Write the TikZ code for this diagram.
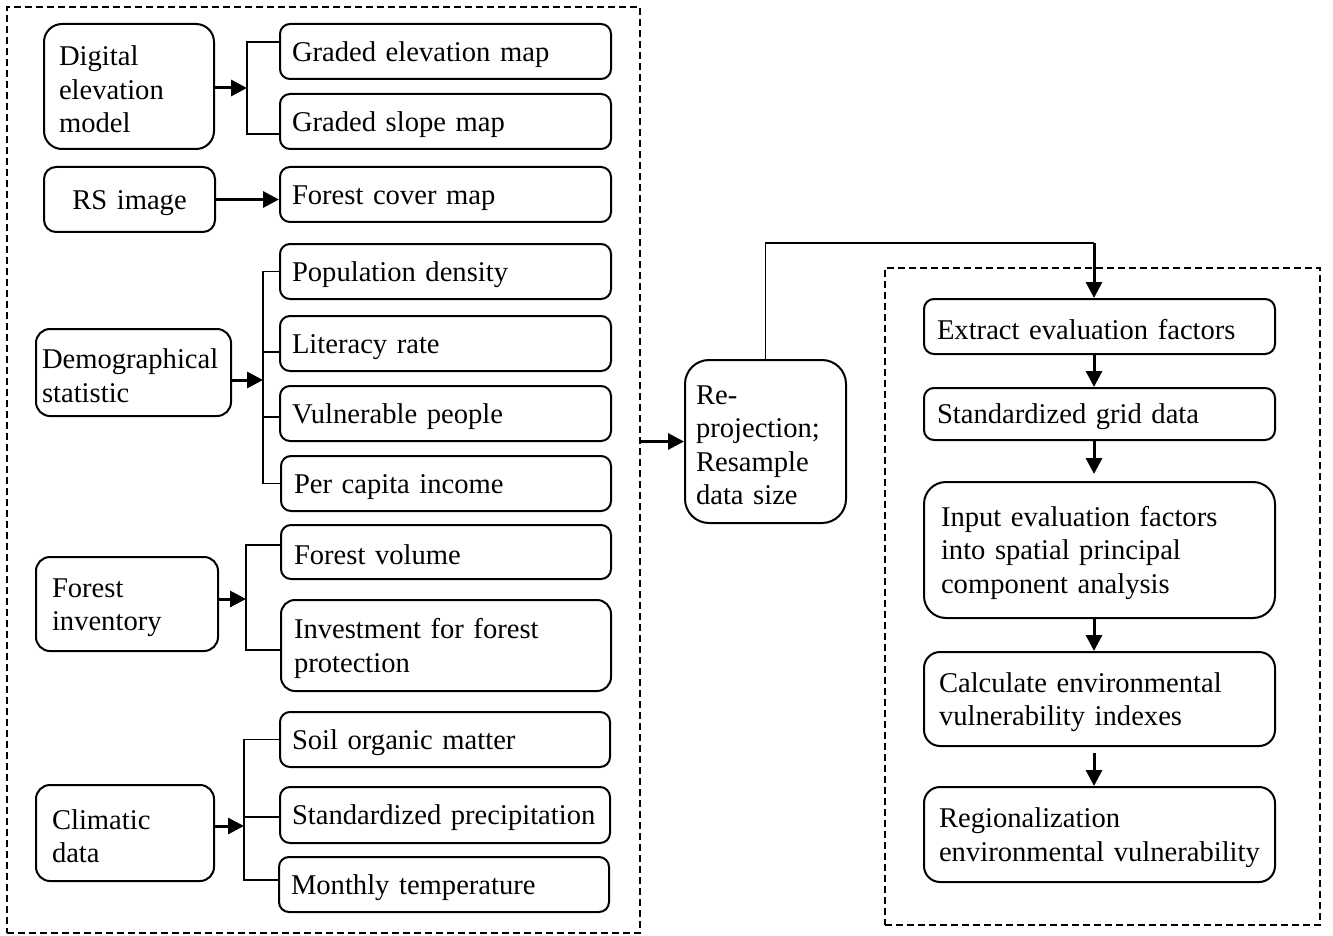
\documentclass[tikz,border=0pt]{standalone}
\usepackage{fontspec}
\setmainfont{Liberation Serif}
\usetikzlibrary{arrows.meta}
\begin{document}
\begin{tikzpicture}[x=1pt,y=-1pt,
  box/.style={draw, line width=2pt, rounded corners=10pt, anchor=north west,
    align=left, inner ysep=0pt, font=\fontsize{28.6}{33.5}\selectfont,
    execute at begin node={\rule{0pt}{26pt}}},
  frame/.style={draw, line width=1.8pt, dash pattern=on 7pt off 4pt, anchor=north west, inner sep=0pt},
  arr/.style={line width=3pt, -{Triangle[length=16pt,width=16pt]}},
  link/.style={line width=1.4pt}]
\useasboundingbox (0,0) rectangle (1333,936);
% frames
\node[frame, minimum width=633pt, minimum height=926pt] (lf) at (6,6) {};
\node[frame, minimum width=435pt, minimum height=657pt] (rf) at (884,267) {};
% left column sources
\node[box, rounded corners=18pt, minimum height=125pt, inner xsep=15pt, text width=140pt] (dem) at (43,23) {Digital\\elevation\\model};
\node[box, rounded corners=12pt, minimum height=65pt, inner xsep=12pt, text width=147pt, align=center] (rs) at (43,166) {RS image};
\node[box, rounded corners=14pt, minimum height=87pt, inner xsep=6pt, text width=183pt] (demo) at (35,328) {Demographical\\statistic};
\node[box, rounded corners=14pt, minimum height=94pt, inner xsep=16pt, text width=150pt] (fi) at (35,556) {Forest\\inventory};
\node[box, rounded corners=14pt, minimum height=96pt, inner xsep=16pt, text width=146pt] (cd) at (35,784) {Climatic\\data};
% derived maps
\node[box, minimum height=55pt, inner xsep=12pt, text width=307pt] (ge) at (279,23) {Graded elevation map};
\node[box, minimum height=55pt, inner xsep=12pt, text width=307pt] (gs) at (279,93) {Graded slope map};
\node[box, minimum height=55pt, inner xsep=12pt, text width=307pt] (fc) at (279,166) {Forest cover map};
\node[box, minimum height=55pt, inner xsep=12pt, text width=307pt] (pd) at (279,243) {Population density};
\node[box, minimum height=55pt, inner xsep=12pt, text width=307pt] (lr) at (279,315) {Literacy rate};
\node[box, minimum height=55pt, inner xsep=12pt, text width=307pt] (vp) at (279,385) {Vulnerable people};
\node[box, minimum height=55pt, inner xsep=13pt, text width=304pt] (pc) at (280,455) {Per capita income};
\node[box, minimum height=54pt, inner xsep=13pt, text width=304pt] (fv) at (280,524) {Forest volume};
\node[box, rounded corners=14pt, minimum height=91pt, inner xsep=13pt, text width=304pt] (inv) at (280,599) {Investment for forest\\protection};
\node[box, minimum height=55pt, inner xsep=12pt, text width=306pt] (som) at (279,711) {Soil organic matter};
\node[box, minimum height=56pt, inner xsep=12pt, text width=306pt] (sp) at (279,786) {Standardized precipitation};
\node[box, minimum height=55pt, inner xsep=12pt, text width=306pt] (mt) at (278,856) {Monthly temperature};
% middle
\node[box, rounded corners=24pt, minimum height=163pt, inner xsep=11pt, text width=139pt] (rp) at (684,359) {Re-\\projection;\\Resample\\data size};
% right column
\node[box, minimum height=55pt, inner xsep=13pt, text width=325pt] (ex) at (923,298) {Extract evaluation factors};
\node[box, minimum height=52pt, inner xsep=13pt, text width=325pt] (sg) at (923,387) {Standardized grid data};
\node[box, rounded corners=22pt, minimum height=136pt, inner xsep=17pt, text width=317pt] (inp) at (923,481) {Input evaluation factors\\into spatial principal\\component analysis};
\node[box, rounded corners=16pt, minimum height=94pt, inner xsep=15pt, text width=321pt] (calc) at (923,651) {Calculate environmental\\vulnerability indexes};
\node[box, rounded corners=16pt, minimum height=95pt, inner xsep=15pt, text width=321pt] (reg) at (923,786) {Regionalization\\environmental vulnerability};
% DEM bracket
\coordinate (b1) at (247,88);
\draw[arr] (dem.east |- b1) -- (b1);
\draw[link] ([yshift=9.5pt]ge.west) -| (b1) |- ([yshift=-12.5pt]gs.west);
% RS
\draw[arr] (rs.east) -- (fc.west |- rs.east);
% Demographic bracket
\coordinate (b2) at (263,380);
\draw[arr] (demo.east |- b2) -- (b2);
\draw[link] (pd.west) -| (b2) |- (pc.west);
\draw[link] ([yshift=-8.5pt]lr.west) -- ++(-16,0);
\draw[link] ([yshift=-3.5pt]vp.west) -- ++(-16,0);
% Forest bracket
\coordinate (b3) at (246,599);
\draw[arr] (fi.east |- b3) -- (b3);
\draw[link] ([yshift=7pt]fv.west) -| (b3) |- ([yshift=-4.5pt]inv.west);
% Climatic bracket
\coordinate (b4) at (244,826);
\draw[arr] (cd.east |- b4) -- (b4);
\draw[link] (som.west) -| (b4) |- ([yshift=4.5pt]mt.west);
\draw[link] ([yshift=-2pt]sp.west) -- ++(-35,0);
% to reprojection
\draw[arr] (lf.east |- rp.west) -- (rp.west);
% reprojection to right column
\coordinate (ax) at (1094,243);
\draw[link] (rp.north) |- (ax);
\draw[arr] (ax) -- (ex.north -| ax);
\draw[arr] (ex.south -| ax) -- (sg.north -| ax);
\draw[arr, shorten >=7pt] (sg.south -| ax) -- (inp.north -| ax);
\draw[arr] (inp.south -| ax) -- (calc.north -| ax);
\draw[arr, shorten <=6pt] (calc.south -| ax) -- (reg.north -| ax);
\end{tikzpicture}
\end{document}
